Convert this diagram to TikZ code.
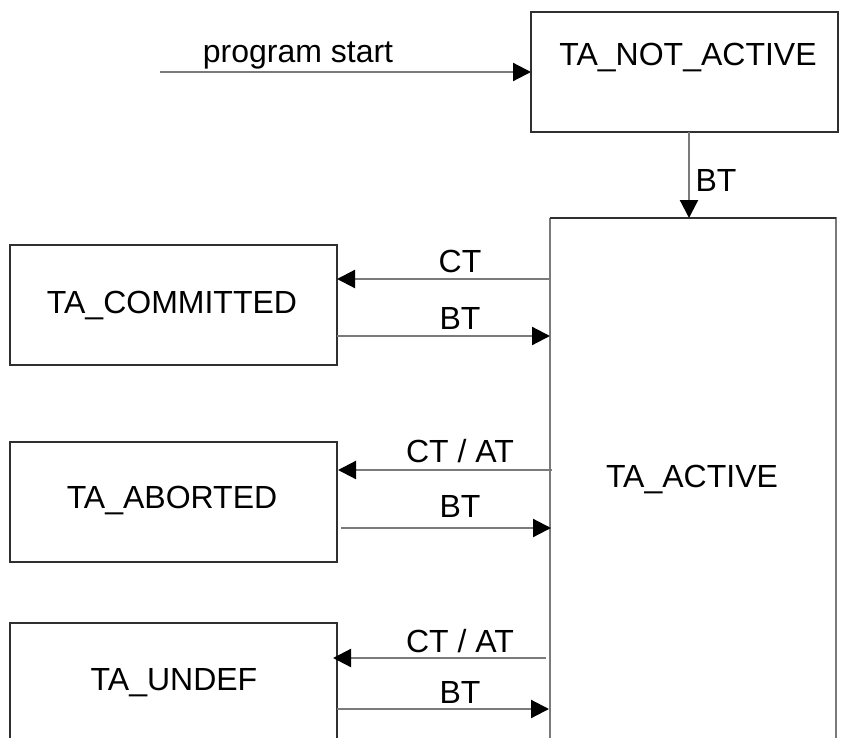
\documentclass[tikz,border=0pt]{standalone}
\usepackage{fontspec}
\setmainfont{Liberation Sans}
\usetikzlibrary{arrows.meta}
\definecolor{linegray}{HTML}{7A7A7A}
\definecolor{boxdark}{HTML}{303030}
\tikzset{
  statebox/.style={draw=boxdark, line width=1.6pt},
  activebox/.style={draw=linegray, line width=2.4pt},
  conn/.style={draw=linegray, line width=2.2pt, -{Triangle[length=18pt,width=18pt,color=black]}},
  lbl/.style={font=\fontsize{32}{38}\selectfont, inner sep=0pt},
}
\begin{document}
\begin{tikzpicture}[x=1pt,y=-1pt]
\useasboundingbox (0,0) rectangle (845,738);
\fill[white] (0,0) rectangle (845,738);
\begin{scope}
\clip (0,0) rectangle (845,738);
% boxes
\draw[statebox] (531,12) rectangle (838,132);
\node[lbl] (nat) at (688,58) {TA\_NOT\_ACTIVE};
\coordinate (natbot) at (689,132);
\coordinate (natleft) at (531,72);
\coordinate (start) at (160,72);

\draw[activebox] (550,218) -- (550,760) (550,218) -- (836,218) -- (836,760);
\draw[draw=boxdark,line width=1.6pt] (550,218) -- (836,218);
\node[lbl] (act) at (692,480) {TA\_ACTIVE};
\coordinate (acttop) at (689,218);

\draw[statebox] (10,245) rectangle (337,365);
\node[lbl] (com) at (172,306) {TA\_COMMITTED};

\draw[statebox] (10,442) rectangle (337,562);
\node[lbl] (abo) at (172,501) {TA\_ABORTED};

\draw[statebox] (10,760) -- (10,623) -- (337,623) -- (337,760);
\node[lbl] (und) at (174,683) {TA\_UNDEF};

% connection points
\coordinate (a1) at (550,279); \coordinate (c1) at (337,279);
\coordinate (c2) at (337,336); \coordinate (a2) at (550,336);
\coordinate (a3) at (552,470); \coordinate (c3) at (338,470);
\coordinate (c4) at (341,528); \coordinate (a4) at (551,528);
\coordinate (a5) at (546,658); \coordinate (c5) at (333,658);
\coordinate (c6) at (337,709); \coordinate (a6) at (549,709);

% connectors
\draw[conn] (start) -- (natleft);
\draw[conn] (natbot) -- (acttop);
\draw[conn] (a1) -- (c1);
\draw[conn] (c2) -- (a2);
\draw[conn] (a3) -- (c3);
\draw[conn] (c4) -- (a4);
\draw[conn] (a5) -- (c5);
\draw[conn] (c6) -- (a6);

% labels
\node[lbl, anchor=base] (ps) at (298,63) {program start};
\node[lbl] (bt0) at (716,180) {BT};
\node[lbl] (ct1) at (460,261) {CT};
\node[lbl] (bt1) at (460,318) {BT};
\node[lbl] (ct2) at (460,451) {CT / AT};
\node[lbl] (bt2) at (460,506) {BT};
\node[lbl] (ct3) at (460,641) {CT / AT};
\node[lbl] (bt3) at (460,692) {BT};
\end{scope}
\end{tikzpicture}
\end{document}
